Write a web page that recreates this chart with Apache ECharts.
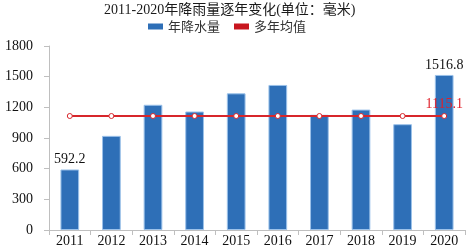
<!DOCTYPE html>
<html>
<head>
<meta charset="utf-8">
<script src="https://cdn.jsdelivr.net/npm/echarts@6/dist/echarts.min.js"></script>
<style>
  html, body { margin: 0; padding: 0; background: #fff; }
  #main { width: 472px; height: 248px; }
</style>
</head>
<body>
<div id="main"></div>
<script>
var years = ['2011', '2012', '2013', '2014', '2015', '2016', '2017', '2018', '2019', '2020'];
var rainfall = [592.2, 921, 1225, 1159, 1337, 1419, 1127, 1178, 1035, 1516.8];
var meanRain = [1115.1, 1115.1, 1115.1, 1115.1, 1115.1, 1115.1, 1115.1, 1115.1, 1115.1, 1115.1];
var yTicks = [0, 300, 600, 900, 1200, 1500, 1800];

var serif = '"Liberation Serif", "Noto Sans CJK SC", serif';
var last = years.length - 1;

var chart = echarts.init(document.getElementById('main'));

var option = {
    animation: false,
    title: {
        text: '2011-2020年降雨量逐年变化(单位：毫米)',
        left: 104,
        top: 3,
        padding: 0,
        textStyle: {
            fontFamily: serif,
            fontSize: 14,
            fontWeight: 'normal',
            color: '#1a1a1a'
        }
    },
    legend: {
        top: 20,
        left: 148,
        icon: 'rect',
        itemWidth: 15,
        itemHeight: 6,
        itemGap: 14,
        padding: 0,
        textStyle: {
            fontFamily: '"Noto Sans CJK SC", sans-serif',
            fontSize: 13,
            color: '#333'
        },
        data: [
            { name: '年降水量', itemStyle: { color: '#2e6fb7', borderWidth: 0 } },
            { name: '多年均值', itemStyle: { color: '#c8161e', borderWidth: 0 } }
        ]
    },
    grid: {
        left: 49,
        right: 7,
        top: 46,
        bottom: 16,
        containLabel: false
    },
    xAxis: {
        type: 'category',
        data: years,
        axisLine: { lineStyle: { color: '#bfbfbf', width: 1 } },
        axisTick: { show: true, length: 5, lineStyle: { color: '#bfbfbf' } },
        axisLabel: {
            margin: 4,
            fontFamily: serif,
            fontSize: 14,
            color: '#111',
            interval: 0
        }
    },
    yAxis: {
        type: 'value',
        min: yTicks[0],
        max: yTicks[yTicks.length - 1],
        interval: 300,
        splitLine: { show: false },
        axisLine: { show: true, lineStyle: { color: '#bfbfbf', width: 1 } },
        axisTick: { show: true, length: 5, lineStyle: { color: '#bfbfbf' } },
        axisLabel: {
            margin: 16,
            fontFamily: serif,
            fontSize: 14,
            color: '#111',
            formatter: function (v) { return String(v); }
        }
    },
    series: [
        {
            name: '年降水量',
            type: 'bar',
            data: rainfall,
            barWidth: '45%',
            itemStyle: {
                color: '#2e6fb7',
                borderColor: '#9cc2ea',
                borderWidth: 1
            },
            label: {
                show: true,
                position: 'top',
                distance: 3,
                fontFamily: serif,
                fontSize: 14,
                color: '#111',
                formatter: function (p) {
                    return (p.dataIndex === 0 || p.dataIndex === last) ? p.value.toFixed(1) : '';
                }
            }
        },
        {
            name: '多年均值',
            type: 'line',
            data: meanRain,
            zlevel: 1,
            symbol: 'circle',
            symbolSize: 5,
            showAllSymbol: true,
            lineStyle: { color: '#d7262b', width: 2 },
            itemStyle: { color: '#fff', borderColor: '#d7262b', borderWidth: 1 },
            label: {
                show: true,
                position: 'top',
                distance: 2,
                fontFamily: serif,
                fontSize: 14,
                color: '#e0202a',
                formatter: function (p) {
                    return p.dataIndex === last ? p.value.toFixed(1) : '';
                }
            }
        }
    ]
};

chart.setOption(option);
</script>
</body>
</html>
